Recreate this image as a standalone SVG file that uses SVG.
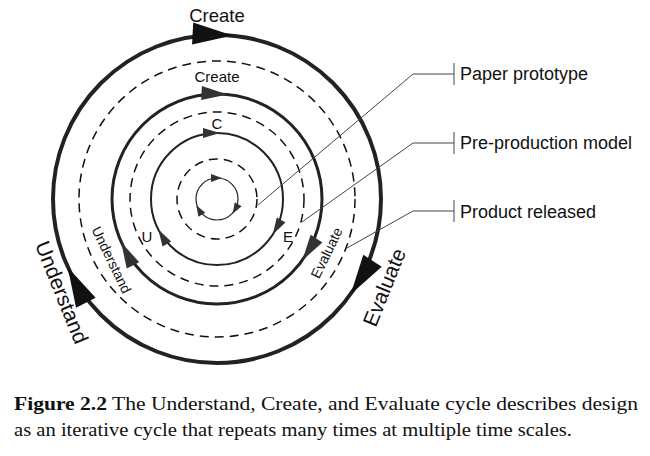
<svg xmlns="http://www.w3.org/2000/svg" width="650" height="456" viewBox="0 0 650 456">
<style>
.s{font-family:"Liberation Sans",Arial,sans-serif;fill:#111}
.ring{fill:none;stroke:#222}
.dash{fill:none;stroke:#111;stroke-width:1.5;stroke-dasharray:9 6}
.lead{fill:none;stroke:#444;stroke-width:1}
.cap{font-family:"Liberation Serif","DejaVu Serif",serif;font-size:19px;fill:#111}
</style>
<rect width="650" height="456" fill="#fff"/>
<g id="rings">
<circle class="ring" cx="217" cy="199" r="164" stroke-width="4"/>
<circle class="dash" cx="217" cy="199" r="138"/>
<circle class="ring" cx="217" cy="199" r="105" stroke-width="3"/>
<circle class="dash" cx="217" cy="199" r="87"/>
<circle class="ring" cx="217" cy="199" r="66" stroke-width="2"/>
<circle class="dash" cx="217" cy="199" r="40" stroke-width="1.2"/>
<circle class="ring" cx="217" cy="199" r="21" stroke-width="1.2"/>
</g>
<g id="arrows" fill="#111">
<polygon points="224,35 184,24 184,46" transform="rotate(3 217 199)"/>
<polygon points="224,35 184,24 184,46" transform="rotate(123 217 199)"/>
<polygon points="224,35 184,24 184,46" transform="rotate(243 217 199)"/>
<polygon points="222,94 196,87 196,101" fill="#333" transform="rotate(3 217 199)"/>
<polygon points="222,94 196,87 196,101" fill="#333" transform="rotate(123 217 199)"/>
<polygon points="222,94 196,87 196,101" fill="#333" transform="rotate(243 217 199)"/>
<polygon points="220,133 203,128 203,138" fill="#333" transform="rotate(0 217 199)"/>
<polygon points="220,133 203,128 203,138" fill="#333" transform="rotate(120 217 199)"/>
<polygon points="220,133 203,128 203,138" fill="#333" transform="rotate(240 217 199)"/>
<polygon points="222,178 211,174 211,182" fill="#333" transform="rotate(0 217 199)"/>
<polygon points="222,178 211,174 211,182" fill="#333" transform="rotate(120 217 199)"/>
<polygon points="222,178 211,174 211,182" fill="#333" transform="rotate(240 217 199)"/>
</g>
<g id="labels">
<text class="s" x="217" y="22" font-size="18.5" text-anchor="middle">Create</text>
<text class="s" x="217" y="82" font-size="15" text-anchor="middle">Create</text>
<text class="s" x="217" y="129" font-size="15" text-anchor="middle">C</text>
<text class="s" x="147" y="242" font-size="15" text-anchor="middle">U</text>
<text class="s" x="288" y="242" font-size="15" text-anchor="middle">E</text>
<text class="s" font-size="21" text-anchor="middle" transform="translate(55,295) rotate(68)">Understand</text>
<text class="s" font-size="21" text-anchor="middle" transform="translate(391,290) rotate(-68)">Evaluate</text>
<text class="s" font-size="14" text-anchor="middle" transform="translate(107,262) rotate(64)">Understand</text>
<text class="s" font-size="14" text-anchor="middle" transform="translate(331,255) rotate(-64)">Evaluate</text>
</g>
<g id="leaders">
<polyline class="lead" points="258,205 413,74 454,74"/>
<line class="lead" x1="454" y1="63" x2="454" y2="85"/>
<polyline class="lead" points="302,222 413,143 454,143"/>
<line class="lead" x1="454" y1="132" x2="454" y2="154"/>
<polyline class="lead" points="347,248 413,211 454,211"/>
<line class="lead" x1="454" y1="200" x2="454" y2="222"/>
<text class="s" x="460" y="80" font-size="18">Paper prototype</text>
<text class="s" x="460" y="149" font-size="18">Pre-production model</text>
<text class="s" x="460" y="218" font-size="18">Product released</text>
</g>
<g id="caption">
<text class="cap" x="14" y="410" textLength="624" lengthAdjust="spacingAndGlyphs"><tspan font-weight="bold">Figure 2.2</tspan> The Understand, Create, and Evaluate cycle describes design</text>
<text class="cap" x="14" y="436" textLength="558" lengthAdjust="spacingAndGlyphs">as an iterative cycle that repeats many times at multiple time scales.</text>
</g>
</svg>
